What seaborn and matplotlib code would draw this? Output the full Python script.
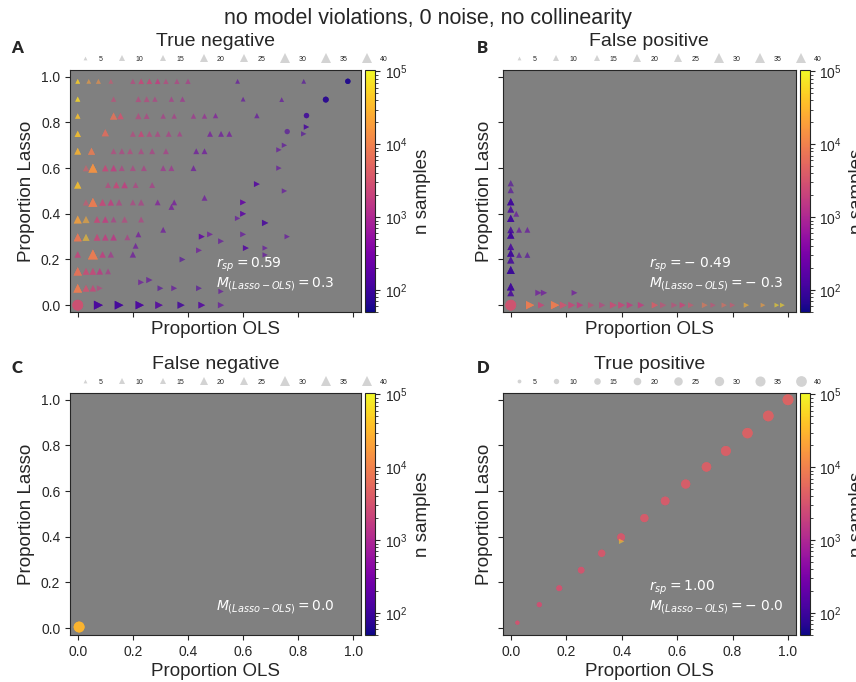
import numpy as np
import pandas as pd
import seaborn as sns
import matplotlib.pyplot as plt
from matplotlib.colors import LogNorm
from matplotlib.cm import ScalarMappable
from matplotlib.lines import Line2D

# ---- True negative (panel A) ----
tn_ols = [0.0, 0.075, 0.15, 0.225, 0.295, 0.375, 0.45, 0.52,
          0.0, 0.03, 0.055, 0.08, 0.23, 0.26, 0.3, 0.35, 0.44, 0.52,
          0.0, 0.03, 0.055, 0.08, 0.11,
          0.0, 0.055, 0.09, 0.12, 0.2, 0.38,
          0.0, 0.03, 0.07, 0.1, 0.13, 0.18, 0.22,
          0.0, 0.03, 0.07, 0.1, 0.13, 0.17, 0.23,
          0.03, 0.055, 0.09, 0.12, 0.15, 0.2, 0.23, 0.29, 0.34,
          0.0, 0.11, 0.14, 0.17, 0.21, 0.27,
          0.055, 0.03, 0.1, 0.13, 0.16, 0.2, 0.24, 0.31, 0.34, 0.42,
          0.0, 0.05, 0.13, 0.16, 0.19, 0.23, 0.27, 0.32, 0.43, 0.46,
          0.0, 0.1, 0.2, 0.23, 0.26, 0.29, 0.33, 0.37, 0.48, 0.52,
          0.0, 0.13, 0.155, 0.22, 0.25, 0.31, 0.35, 0.42, 0.46,
          0.0, 0.13, 0.22, 0.25, 0.28, 0.34, 0.38, 0.6,
          0.0, 0.04, 0.075, 0.12, 0.2, 0.23, 0.26, 0.29, 0.32, 0.36, 0.4, 0.58, 0.82,
          0.98, 0.9, 0.83, 0.83, 0.82, 0.76, 0.75, 0.73, 0.73, 0.65, 0.75, 0.6,
          0.6, 0.58, 0.68, 0.6, 0.76, 0.52, 0.45, 0.48, 0.61, 0.68, 0.68, 0.44,
          0.31, 0.21, 0.35, 0.46, 0.55, 0.65, 0.74, 0.5]
tn_lasso = [0.0, 0.0, 0.0, 0.0, 0.0, 0.0, 0.0, 0.0,
            0.074, 0.074, 0.074, 0.074, 0.1, 0.11, 0.074, 0.074, 0.074, 0.06,
            0.148, 0.148, 0.148, 0.148, 0.148,
            0.222, 0.222, 0.222, 0.222, 0.222, 0.2,
            0.297, 0.297, 0.297, 0.297, 0.297, 0.297, 0.31,
            0.375, 0.375, 0.375, 0.375, 0.375, 0.375, 0.375,
            0.45, 0.45, 0.45, 0.45, 0.45, 0.45, 0.45, 0.45, 0.43,
            0.526, 0.526, 0.526, 0.526, 0.526, 0.526,
            0.6, 0.6, 0.6, 0.6, 0.6, 0.6, 0.6, 0.6, 0.6, 0.6,
            0.674, 0.674, 0.674, 0.674, 0.674, 0.674, 0.674, 0.674, 0.674, 0.674,
            0.75, 0.755, 0.75, 0.75, 0.75, 0.75, 0.75, 0.75, 0.75, 0.75,
            0.828, 0.828, 0.828, 0.828, 0.828, 0.828, 0.828, 0.828, 0.828,
            0.902, 0.902, 0.902, 0.902, 0.902, 0.902, 0.902, 0.902,
            0.98, 0.98, 0.98, 0.98, 0.98, 0.98, 0.98, 0.98, 0.98, 0.98, 0.98, 0.98, 0.98,
            0.98, 0.9, 0.83, 0.78, 0.75, 0.76, 0.7, 0.68, 0.6, 0.53, 0.5, 0.45,
            0.4, 0.38, 0.36, 0.31, 0.3, 0.28, 0.3, 0.31, 0.25, 0.25, 0.22, 0.24,
            0.33, 0.26, 0.45, 0.47, 0.75, 0.83, 0.9, 0.83]
tn_n = [2800, 120, 110, 130, 150, 110, 150, 200,
        9000, 3000, 2200, 1800, 250, 200, 150, 200, 150, 200,
        7000, 2500, 2200, 1600, 1200,
        2000, 9000, 1800, 1000, 250, 150,
        8000, 40000, 2200, 1800, 1500, 1300, 300,
        20000, 25000, 2200, 1800, 1300, 1800, 1500,
        3000, 9000, 2200, 1800, 1500, 1500, 1300, 400, 300,
        40000, 1800, 2200, 1800, 1500, 1200,
        15000, 4000, 2200, 1800, 1500, 1500, 1300, 900, 900, 250,
        30000, 9000, 1800, 1500, 1800, 1500, 1300, 1200, 250, 250,
        40000, 6000, 1800, 2200, 1800, 1500, 1300, 1200, 300, 250,
        40000, 7000, 3000, 1800, 1500, 1200, 1200, 900, 700,
        60000, 2200, 1800, 1800, 1500, 1200, 900, 200,
        50000, 20000, 15000, 3000, 1800, 2200, 2200, 1800, 1800, 1500, 1200, 200, 150,
        60, 70, 100, 120, 150, 150, 180, 200, 200, 150, 200, 200,
        180, 200, 120, 200, 200, 200, 200, 250, 150, 200, 200, 250,
        250, 250, 300, 250, 300, 200, 200, 400]
tn_k = [40, 28, 26, 24, 20, 18, 16, 14,
        26, 16, 14, 12, 12, 14, 12, 12, 12, 10,
        24, 16, 16, 14, 12,
        14, 34, 14, 14, 14, 12,
        22, 18, 16, 14, 14, 12, 12,
        22, 18, 14, 14, 12, 14, 12,
        14, 28, 16, 14, 14, 12, 14, 12, 12,
        18, 12, 14, 14, 12, 12,
        28, 14, 14, 14, 12, 12, 12, 12, 12, 12,
        16, 18, 12, 12, 12, 12, 12, 12, 12, 12,
        14, 18, 12, 12, 12, 12, 12, 10, 12, 12,
        10, 18, 14, 14, 12, 10, 10, 10, 10,
        9, 10, 12, 12, 10, 10, 10, 8,
        8, 8, 9, 8, 10, 10, 10, 10, 10, 10, 10, 8, 8,
        10, 12, 10, 10, 10, 10, 10, 10, 10, 12, 10, 12,
        12, 10, 14, 12, 10, 12, 12, 12, 12, 10, 10, 12,
        12, 12, 12, 12, 12, 10, 8, 10]
tn_runs = [3, 3, 3, 3, 2, 2, 2, 1,
           3, 2, 2, 1, 1, 1, 1, 1, 1, 1,
           3, 2, 2, 2, 1,
           2, 3, 2, 1, 1, 1,
           3, 1, 2, 2, 2, 1, 1,
           2, 1, 2, 2, 1, 1, 1,
           1, 3, 2, 2, 1, 1, 1, 1, 1,
           2, 1, 2, 2, 1, 1,
           3, 1, 2, 2, 1, 1, 1, 1, 1, 1,
           2, 2, 1, 1, 1, 1, 1, 1, 1, 1,
           2, 2, 1, 2, 1, 1, 1, 1, 1, 1,
           2, 2, 2, 1, 1, 1, 1, 1, 1,
           2, 1, 1, 1, 1, 1, 1, 1,
           2, 1, 1, 1, 1, 2, 2, 2, 1, 1, 1, 1, 1,
           3, 3, 2, 2, 1, 1, 1, 1, 1, 2, 1, 2,
           2, 1, 2, 1, 1, 1, 2, 1, 2, 1, 1, 1,
           1, 1, 1, 1, 1, 1, 1, 1]

# ---- False positive (panel B) ----
fp_ols = [0.0, 0.0, 0.0, 0.0, 0.0, 0.0, 0.0, 0.0, 0.0, 0.0, 0.0, 0.0, 0.0,
          0.03, 0.03, 0.06, 0.06, 0.02, 0.1, 0.12, 0.23,
          0.0, 0.07, 0.11, 0.16, 0.19, 0.22, 0.25, 0.29, 0.33, 0.37, 0.4, 0.43, 0.47,
          0.52, 0.55, 0.59, 0.62, 0.65, 0.7, 0.73, 0.77, 0.8, 0.85, 0.91, 0.96, 0.98]
fp_lasso = [0.054, 0.081, 0.154, 0.198, 0.228, 0.256, 0.307, 0.33, 0.38, 0.42, 0.453, 0.504, 0.534,
            0.33, 0.22, 0.33, 0.22, 0.4, 0.054, 0.054, 0.054,
            0.0, 0.0, 0.0, 0.0, 0.0, 0.0, 0.0, 0.0, 0.0, 0.0, 0.0, 0.0, 0.0,
            0.0, 0.0, 0.0, 0.0, 0.0, 0.0, 0.0, 0.0, 0.0, 0.0, 0.0, 0.0, 0.0]
fp_n = [120, 100, 90, 110, 100, 120, 100, 110, 100, 120, 100, 150, 150,
        200, 150, 200, 150, 200, 250, 250, 250,
        3000, 9000, 2200, 9000, 3000, 2200, 1800, 2200, 1800, 2500, 2200, 1800, 1800,
        4000, 2500, 2200, 2200, 3000, 8000, 2500, 6000, 3000, 30000, 20000, 60000, 60000]
fp_k = [16, 20, 22, 18, 18, 16, 18, 16, 18, 16, 18, 14, 14,
        12, 12, 12, 12, 12, 14, 14, 12,
        40, 24, 14, 24, 18, 16, 14, 14, 14, 16, 16, 14, 14,
        14, 14, 12, 12, 12, 12, 10, 10, 10, 10, 8, 8, 8]
fp_runs = [2, 3, 3, 2, 3, 2, 3, 2, 3, 2, 3, 1, 1,
           1, 1, 1, 1, 1, 1, 1, 1,
           3, 3, 2, 3, 2, 2, 2, 1, 1, 2, 2, 2, 2,
           2, 1, 1, 2, 1, 1, 1, 1, 1, 1, 1, 1, 1]

# ---- False negative (panel C) ----
fn_ols = [0.005]
fn_lasso = [0.005]
fn_n = [30000]
fn_k = [40]
fn_runs = [4]

# ---- True positive (panel D) ----
tp_ols = [0.024, 0.103, 0.175, 0.254, 0.328, 0.398, 0.482, 0.557, 0.631, 0.706, 0.776, 0.854, 0.929, 1.0, 0.4]
tp_lasso = [0.024, 0.103, 0.175, 0.254, 0.328, 0.398, 0.482, 0.557, 0.631, 0.706, 0.776, 0.854, 0.929, 1.0, 0.38]
tp_n = [3000, 2800, 3000, 3200, 3500, 3500, 3800, 3800, 4000, 4200, 4200, 4500, 4500, 4800, 40000]
tp_k = [6, 9, 12, 15, 18, 21, 23, 26, 29, 31, 34, 37, 39, 40, 10]
tp_runs = [3, 3, 3, 3, 3, 3, 3, 3, 3, 3, 3, 3, 3, 3, 1]

panel_titles = ['True negative', 'False positive', 'False negative', 'True positive']
panel_letters = ['A', 'B', 'C', 'D']
r_sp = [0.59, -0.49, None, 1.00]
m_diff = [0.3, -0.3, 0.0, -0.0]
legend_sizes = [5, 10, 15, 20, 25, 30, 35, 40]

SIZE_SCALE = 1.5  # marker area (pt^2) per unit of the size variable


def make_df(ols, lasso, n, k, runs):
    df = pd.DataFrame({'ols': ols, 'lasso': lasso, 'n': n, 'k': k})
    df['shape'] = np.where(df.lasso > df.ols, 'up',
                           np.where(df.lasso < df.ols, 'right', 'same'))
    return df.loc[df.index.repeat(runs)].reset_index(drop=True)


def fmt_val(v, digits):
    # spaced minus like the original figure
    s = '%.*f' % (digits, v)
    if s.startswith('-'):
        s = r'-\ ' + s[1:]
    return s


data = [make_df(tn_ols, tn_lasso, tn_n, tn_k, tn_runs),
        make_df(fp_ols, fp_lasso, fp_n, fp_k, fp_runs),
        make_df(fn_ols, fn_lasso, fn_n, fn_k, fn_runs),
        make_df(tp_ols, tp_lasso, tp_n, tp_k, tp_runs)]

sns.set_style('ticks')
plt.rcParams['font.family'] = ['Liberation Sans', 'DejaVu Sans']
plt.rcParams['mathtext.fontset'] = 'custom'
plt.rcParams['mathtext.rm'] = 'Liberation Sans'
plt.rcParams['mathtext.it'] = 'Liberation Sans:italic'

fig = plt.figure(figsize=(8.56, 6.82), dpi=100)
norm = LogNorm(vmin=50, vmax=1.05e5)

lefts = [0.0818, 0.5876, 0.0818, 0.5876]
widths = [0.340, 0.342, 0.340, 0.342]
bottoms = [0.5425, 0.5425, 0.0689, 0.0689]
height = 0.355
letter_pos = [(0.013, 0.93), (0.557, 0.93), (0.013, 0.46), (0.557, 0.46)]

for i in range(4):
    ax = fig.add_axes([lefts[i], bottoms[i], widths[i], height])
    cax = fig.add_axes([lefts[i] + widths[i] + 0.0047, bottoms[i], 0.0117, height])
    ax.set_facecolor('gray')

    sns.scatterplot(data=data[i], x='ols', y='lasso', hue='n', hue_norm=norm, palette='plasma',
                    size='k', sizes=(5 * SIZE_SCALE, 40 * SIZE_SCALE), size_norm=(5, 40),
                    style='shape', markers={'up': '^', 'right': '>', 'same': 'o'},
                    alpha=0.6, linewidth=0, legend=False, ax=ax)

    ax.set_xlim(-0.028, 1.028)
    ax.set_ylim(-0.03, 1.03)
    ax.set_xticks([0, 0.2, 0.4, 0.6, 0.8, 1.0])
    ax.set_yticks([0, 0.2, 0.4, 0.6, 0.8, 1.0])
    ax.tick_params(labelsize=10)
    ax.set_xlabel('Proportion OLS', fontsize=13.5, labelpad=3)
    ax.set_ylabel('Proportion Lasso', fontsize=13.5)
    if i < 2:
        ax.tick_params(labelbottom=False)
    if i % 2 == 1:
        ax.tick_params(labelleft=False)
    ax.set_title(panel_titles[i], fontsize=14, pad=17)

    if r_sp[i] is not None:
        ax.text(0.5, 0.195, r'$r_{sp} = %s$' % fmt_val(r_sp[i], 2), transform=ax.transAxes,
                color='white', fontsize=10, va='center', math_fontfamily='dejavusans')
    ax.text(0.5, 0.115, r'$M_{(Lasso-OLS)} = %s$' % fmt_val(m_diff[i], 1), transform=ax.transAxes,
            color='white', fontsize=10, va='center', math_fontfamily='dejavusans')

    mk = 'o' if i == 3 else '^'
    handles = [Line2D([], [], ls='', marker=mk, markersize=np.sqrt(SIZE_SCALE * v),
                      color='lightgray', mew=0) for v in legend_sizes]
    ax.legend(handles, [str(v) for v in legend_sizes], ncol=8, loc='center',
              bbox_to_anchor=(0.565, 1.044), frameon=False, fontsize=5,
              handlelength=1.2, handletextpad=1.3, columnspacing=2.25, borderaxespad=0)

    cb = fig.colorbar(ScalarMappable(norm=norm, cmap='plasma'), cax=cax)
    cb.set_label('n samples', fontsize=13.5, labelpad=5)
    cb.ax.tick_params(labelsize=10)

    fig.text(letter_pos[i][0], letter_pos[i][1], panel_letters[i], fontsize=12,
             fontweight='heavy', family='Lato', va='center')

fig.suptitle('no model violations, 0 noise, no collinearity', fontsize=15.5, y=0.973, va='center')

plt.savefig('out.png', dpi=100)
